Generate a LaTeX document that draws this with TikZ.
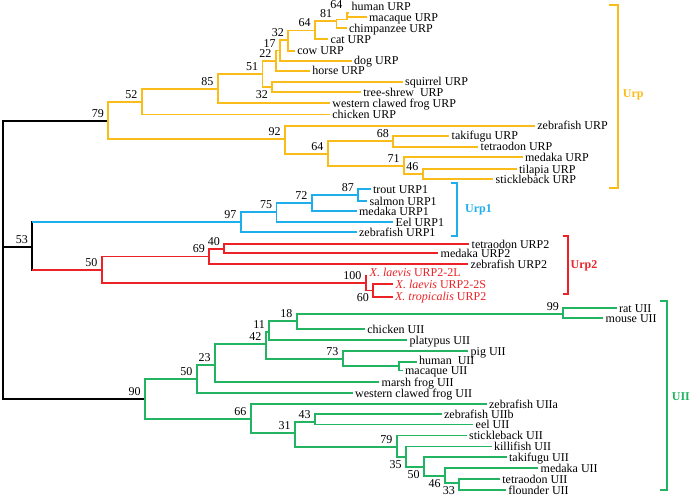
\documentclass[tikz,border=0pt]{standalone}
\usepackage{fontspec}
\setmainfont{Liberation Serif}
\definecolor{urpc}{RGB}{250,188,24}
\definecolor{urpa}{RGB}{30,174,235}
\definecolor{urpb}{RGB}{237,34,38}
\definecolor{uiic}{RGB}{34,180,96}
\tikzset{
  tipl/.style={anchor=base west,inner sep=1.5pt,yshift=-4pt,font=\fontsize{12}{14}\selectfont},
  bs/.style={anchor=south east,inner sep=1pt,xshift=-2.5pt,yshift=1.5pt,font=\fontsize{12}{14}\selectfont},
  bsb/.style={anchor=north east,inner sep=1pt,xshift=-2.5pt,yshift=-1.5pt,font=\fontsize{12}{14}\selectfont},
  grp/.style={anchor=west,inner sep=0pt,font=\fontsize{12}{14}\selectfont\bfseries}
}
\begin{document}
\begin{tikzpicture}[x=1pt,y=-1pt,line width=1.8pt]
  \useasboundingbox (0,0) rectangle (690,498);

  % inner nodes
  \coordinate (root) at (3,260);
  \coordinate (n79) at (108.3,120.7);
  \coordinate (n52) at (141.7,101.6);
  \coordinate (n85) at (217.7,88.7);
  \coordinate (n51) at (262.5,74);
  \coordinate (n22) at (275.7,60.6);
  \coordinate (n17) at (280,50.5);
  \coordinate (n32a) at (288.3,40.3);
  \coordinate (n64b) at (315,30.5);
  \coordinate (n81) at (336.5,20.7);
  \coordinate (n64a) at (346.7,19.5);
  \coordinate (n32b) at (272.3,87);
  \coordinate (n92) at (285,139);
  \coordinate (n64c) at (327.7,154);
  \coordinate (n68) at (393.3,141.2);
  \coordinate (n71) at (404,165.8);
  \coordinate (n46a) at (422.7,174.3);

  \coordinate (n53) at (32.3,246.7);
  \coordinate (n97) at (240.7,222.3);
  \coordinate (n75) at (276.5,212.3);
  \coordinate (n72) at (311.7,203);
  \coordinate (n87) at (358.3,195);

  \coordinate (n50a) at (101.7,270);
  \coordinate (n69) at (209.3,256.5);
  \coordinate (n40) at (224.3,248.8);
  \coordinate (n100) at (365.7,283.2);
  \coordinate (n60) at (373.3,290.5);

  \coordinate (n90) at (145,399);
  \coordinate (n50b) at (196.7,379);
  \coordinate (n23) at (215,365);
  \coordinate (n42) at (265.7,344.3);
  \coordinate (n11) at (269.3,331.7);
  \coordinate (n18) at (296.7,321);
  \coordinate (n99) at (563.3,314);
  \coordinate (n73) at (342.7,359.3);
  \coordinate (nhm) at (399.3,366);
  \coordinate (n66) at (250.7,419);
  \coordinate (n31) at (295,433.3);
  \coordinate (n43) at (315,421.7);
  \coordinate (n79b) at (396.7,447);
  \coordinate (n35) at (406,457.3);
  \coordinate (n50c) at (424,467.3);
  \coordinate (n46b) at (445,476);
  \coordinate (n33) at (459.3,483);

  % leaves
  \coordinate (human) at (349.3,12.7);
  \coordinate (macaque) at (366.7,17);
  \coordinate (chimp) at (346.7,28.3);
  \coordinate (cat) at (328.3,39.3);
  \coordinate (cow) at (295,50.7);
  \coordinate (dog) at (351.7,60.7);
  \coordinate (horse) at (310,70.7);
  \coordinate (squirrel) at (402.7,81.7);
  \coordinate (shrew) at (361,92.3);
  \coordinate (frogurp) at (330,103);
  \coordinate (chickurp) at (330,114.5);
  \coordinate (zfurp) at (535,125.7);
  \coordinate (takiurp) at (449.3,135.7);
  \coordinate (tetrurp) at (478.3,146.7);
  \coordinate (medurp) at (522.7,157.3);
  \coordinate (tilapia) at (516.7,169.3);
  \coordinate (stickurp) at (493.3,179.3);

  \coordinate (trout) at (370.7,189.3);
  \coordinate (salmon) at (367.3,201);
  \coordinate (meda) at (356.7,211);
  \coordinate (eel) at (393.3,222.3);
  \coordinate (zfa) at (356.7,232.3);

  \coordinate (tetrb) at (469.3,244.3);
  \coordinate (medb) at (438.3,253.3);
  \coordinate (zfb) at (468.3,264.3);
  \coordinate (laevl) at (367.3,276);
  \coordinate (laevs) at (393.3,284.3);
  \coordinate (tropic) at (392.7,296.7);

  \coordinate (rat) at (616.7,308.3);
  \coordinate (mouse) at (603.3,318.3);
  \coordinate (chickuii) at (365,329.3);
  \coordinate (platypus) at (407.3,340);
  \coordinate (pig) at (468.3,351);
  \coordinate (humuii) at (416.7,361.7);
  \coordinate (macuii) at (402.7,370.5);
  \coordinate (marsh) at (379.3,382);
  \coordinate (froguii) at (352.7,393.3);
  \coordinate (zfuiia) at (486.7,404.3);
  \coordinate (zfuiib) at (441.7,414);
  \coordinate (eeluii) at (473.3,424.5);
  \coordinate (stickuii) at (466.7,435.5);
  \coordinate (killi) at (491.7,446.5);
  \coordinate (takiuii) at (506.7,457);
  \coordinate (meduii) at (538.3,468.3);
  \coordinate (tetruii) at (500,479.3);
  \coordinate (flounder) at (506,490);

  % branches
  \draw (root) |- (n79) (root) |- (n53) (root) |- (n90);
  \draw[line cap=rect] (n53 |- n97) -- (n53 |- n50a);
  \draw[urpa] (n53 |- n97) -- (n97);
  \draw[urpb] (n53 |- n50a) -- (n50a);

  \draw[urpc] (n79) |- (n52) (n79) |- (n92);
  \draw[urpc] (n52) |- (n85) (n52) |- (chickurp);
  \draw[urpc] (n85) |- (n51) (n85) |- (frogurp);
  \draw[urpc] (n51) |- (n22) (n51) |- (n32b);
  \draw[urpc] (n32b) |- (squirrel) (n32b) |- (shrew);
  \draw[urpc] (n22) |- (n17) (n22) |- (horse);
  \draw[urpc] (n17) |- (n32a) (n17) |- (dog);
  \draw[urpc] (n32a) |- (n64b) (n32a) |- (cow);
  \draw[urpc] (n64b) |- (n81) (n64b) |- (cat);
  \draw[urpc] (n81) |- (n64a) (n81) |- (chimp);
  \draw[urpc] (n64a) |- (human) (n64a) |- (macaque);
  \draw[urpc] (n92) |- (zfurp) (n92) |- (n64c);
  \draw[urpc] (n64c) |- (n68) (n64c) |- (n71);
  \draw[urpc] (n68) |- (takiurp) (n68) |- (tetrurp);
  \draw[urpc] (n71) |- (medurp) (n71) |- (n46a);
  \draw[urpc] (n46a) |- (tilapia) (n46a) |- (stickurp);

  \draw[urpa] (n97) |- (n75) (n97) |- (zfa);
  \draw[urpa] (n75) |- (n72) (n75) |- (eel);
  \draw[urpa] (n72) |- (n87) (n72) |- (meda);
  \draw[urpa] (n87) |- (trout) (n87) |- (salmon);

  \draw[urpb] (n50a) |- (n69) (n50a) |- (n100);
  \draw[urpb] (n69) |- (n40) (n69) |- (zfb);
  \draw[urpb] (n40) |- (tetrb) (n40) |- (medb);
  \draw[urpb] (n100) |- (laevl) (n100) |- (n60);
  \draw[urpb] (n60) |- (laevs) (n60) |- (tropic);

  \draw[uiic] (n90) |- (n50b) (n90) |- (n66);
  \draw[uiic] (n50b) |- (n23) (n50b) |- (froguii);
  \draw[uiic] (n23) |- (n42) (n23) |- (marsh);
  \draw[uiic] (n42) |- (n11) (n42) |- (n73);
  \draw[uiic] (n11) |- (n18) (n11) |- (platypus);
  \draw[uiic] (n18) |- (n99) (n18) |- (chickuii);
  \draw[uiic] (n99) |- (rat) (n99) |- (mouse);
  \draw[uiic] (n73) |- (pig) (n73) |- (nhm);
  \draw[uiic] (nhm) |- (humuii) (nhm) |- (macuii);
  \draw[uiic] (n66) |- (zfuiia) (n66) |- (n31);
  \draw[uiic] (n31) |- (n43) (n31) |- (n79b);
  \draw[uiic] (n43) |- (zfuiib) (n43) |- (eeluii);
  \draw[uiic] (n79b) |- (stickuii) (n79b) |- (n35);
  \draw[uiic] (n35) |- (killi) (n35) |- (n50c);
  \draw[uiic] (n50c) |- (takiuii) (n50c) |- (n46b);
  \draw[uiic] (n46b) |- (meduii) (n46b) |- (n33);
  \draw[uiic] (n33) |- (tetruii) (n33) |- (flounder);

  % leaf names
  \node[tipl,yshift=6.7pt] (human-t) at (human) {human URP};
  \node[tipl] (macaque-t) at (macaque) {macaque URP};
  \node[tipl] (chimp-t) at (chimp) {chimpanzee URP};
  \node[tipl] (cat-t) at (cat) {cat URP};
  \node[tipl] (cow-t) at (cow) {cow URP};
  \node[tipl] (dog-t) at (dog) {dog URP};
  \node[tipl] (horse-t) at (horse) {horse URP};
  \node[tipl] (squirrel-t) at (squirrel) {squirrel URP};
  \node[tipl] (shrew-t) at (shrew) {tree-shrew\ \ URP};
  \node[tipl] (frogurp-t) at (frogurp) {western clawed frog URP};
  \node[tipl] (chickurp-t) at (chickurp) {chicken URP};
  \node[tipl] (zfurp-t) at (zfurp) {zebrafish URP};
  \node[tipl] (takiurp-t) at (takiurp) {takifugu URP};
  \node[tipl] (tetrurp-t) at (tetrurp) {tetraodon URP};
  \node[tipl] (medurp-t) at (medurp) {medaka URP};
  \node[tipl] (tilapia-t) at (tilapia) {tilapia URP};
  \node[tipl] (stickurp-t) at (stickurp) {stickleback URP};

  \node[tipl] (trout-t) at (trout) {trout URP1};
  \node[tipl] (salmon-t) at (salmon) {salmon URP1};
  \node[tipl] (meda-t) at (meda) {medaka URP1};
  \node[tipl] (eel-t) at (eel) {Eel URP1};
  \node[tipl] (zfa-t) at (zfa) {zebrafish URP1};

  \node[tipl] (tetrb-t) at (tetrb) {tetraodon URP2};
  \node[tipl] (medb-t) at (medb) {medaka URP2};
  \node[tipl] (zfb-t) at (zfb) {zebrafish URP2};
  \node[tipl,yshift=3.5pt,text=urpb] (laevl-t) at (laevl) {\textit{X. laevis} URP2-2L};
  \node[tipl,text=urpb] (laevs-t) at (laevs) {\textit{X. laevis} URP2-2S};
  \node[tipl,text=urpb] (tropic-t) at (tropic) {\textit{X. tropicalis} URP2};

  \node[tipl] (rat-t) at (rat) {rat UII};
  \node[tipl] (mouse-t) at (mouse) {mouse UII};
  \node[tipl] (chickuii-t) at (chickuii) {chicken UII};
  \node[tipl] (platypus-t) at (platypus) {platypus UII};
  \node[tipl] (pig-t) at (pig) {pig UII};
  \node[tipl,yshift=1.5pt] (humuii-t) at (humuii) {human\ \ UII};
  \node[tipl] (macuii-t) at (macuii) {macaque UII};
  \node[tipl] (marsh-t) at (marsh) {marsh frog UII};
  \node[tipl] (froguii-t) at (froguii) {western clawed frog UII};
  \node[tipl] (zfuiia-t) at (zfuiia) {zebrafish UIIa};
  \node[tipl] (zfuiib-t) at (zfuiib) {zebrafish UIIb};
  \node[tipl] (eeluii-t) at (eeluii) {eel UII};
  \node[tipl] (stickuii-t) at (stickuii) {stickleback UII};
  \node[tipl] (killi-t) at (killi) {killifish UII};
  \node[tipl] (takiuii-t) at (takiuii) {takifugu UII};
  \node[tipl] (meduii-t) at (meduii) {medaka UII};
  \node[tipl] (tetruii-t) at (tetruii) {tetraodon UII};
  \node[tipl] (flounder-t) at (flounder) {flounder UII};

  % bootstrap values
  \node[bs] (b79) at (n79) {79};
  \node[bs] (b52) at (n52) {52};
  \node[bs] (b85) at (n85) {85};
  \node[bs] (b51) at (n51) {51};
  \node[bs] (b22) at (n22) {22};
  \node[bs] (b17) at (n17) {17};
  \node[bs] (b32a) at (n32a) {32};
  \node[bs] (b64b) at (n64b) {64};
  \node[bs] (b81) at (n81) {81};
  \node[bs,yshift=7pt] (b64a) at (n64a) {64};
  \node[bsb] (b32b) at (n32b) {32};
  \node[bs] (b92) at (n92) {92};
  \node[bs] (b64c) at (n64c) {64};
  \node[bs] (b68) at (n68) {68};
  \node[bs] (b71) at (n71) {71};
  \node[bs] (b46a) at (n46a) {46};
  \node[bs] (b53) at (n53) {53};
  \node[bs] (b97) at (n97) {97};
  \node[bs] (b75) at (n75) {75};
  \node[bs] (b72) at (n72) {72};
  \node[bs] (b87) at (n87) {87};
  \node[bs] (b50a) at (n50a) {50};
  \node[bs] (b69) at (n69) {69};
  \node[bs] (b40) at (n40) {40};
  \node[bs] (b100) at (n100) {100};
  \node[bsb] (b60) at (n60) {60};
  \node[bs] (b90) at (n90) {90};
  \node[bs] (b50b) at (n50b) {50};
  \node[bs] (b23) at (n23) {23};
  \node[bs] (b42) at (n42) {42};
  \node[bs] (b11) at (n11) {11};
  \node[bs] (b18) at (n18) {18};
  \node[bs] (b99) at (n99) {99};
  \node[bs] (b73) at (n73) {73};
  \node[bs] (b66) at (n66) {66};
  \node[bs] (b31) at (n31) {31};
  \node[bs] (b43) at (n43) {43};
  \node[bs] (b79b) at (n79b) {79};
  \node[bsb] (b35) at (n35) {35};
  \node[bsb] (b50c) at (n50c) {50};
  \node[bsb] (b46b) at (n46b) {46};
  \node[bsb] (b33) at (n33) {33};

  % clade brackets
  \draw[urpc] (609.3,5) -- (618.3,5) -- (618.3,187.7) -- (609.3,187.7);
  \node[grp,text=urpc] (urp) at (622,95) {Urp};
  \draw[urpa] (450.7,183.3) -- (457.3,183.3) -- (457.3,235.7) -- (450.7,235.7);
  \node[grp,text=urpa] (urp1) at (464.3,210) {Urp1};
  \draw[urpb] (562.7,236) -- (567.7,236) -- (567.7,294.3) -- (562.7,294.3);
  \node[grp,text=urpb] (urp2) at (569.7,266) {Urp2};
  \draw[uiic] (660,300.7) -- (667,300.7) -- (667,490) -- (660,490);
  \node[grp,text=uiic] (uii) at (671,397) {UII};
\end{tikzpicture}
\end{document}
